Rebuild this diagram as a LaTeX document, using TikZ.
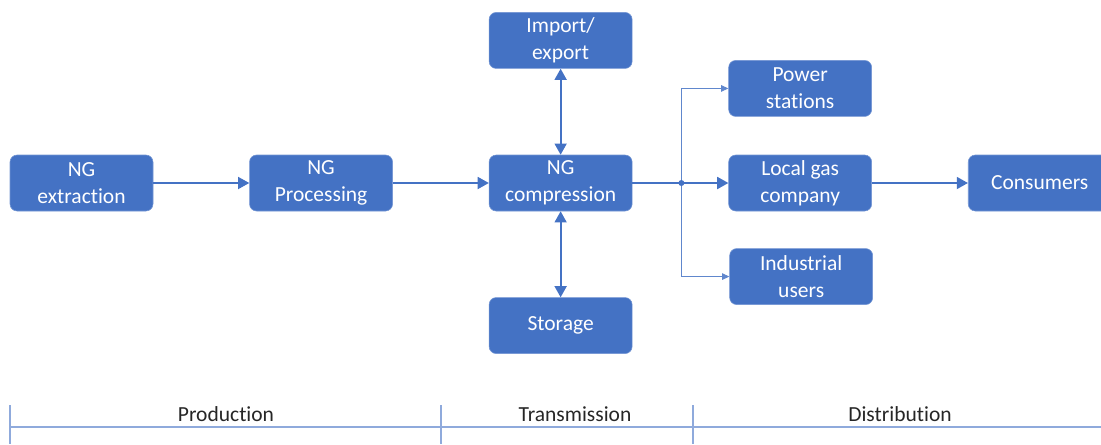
\documentclass[tikz,border=0pt]{standalone}
\usepackage{fontspec}
\setmainfont{Carlito}[Ligatures={NoCommon}]
\usetikzlibrary{arrows.meta, positioning, calc}
\definecolor{ngblue}{HTML}{4472C4}
\definecolor{ngline}{HTML}{8FAADC}
\tikzset{
  stage/.style={draw=ngblue!75!white, fill=ngblue, rounded corners=5pt, minimum width=3.575cm, minimum height=1.4cm, text=white, align=center, font=\fontsize{15.3}{19}\selectfont, inner sep=2pt},
  flow/.style={ngblue, line width=1.3pt, -{Triangle[length=2.8mm,width=3mm]}},
  twoway/.style={ngblue, line width=1.3pt, {Triangle[length=2.8mm,width=3mm]}-{Triangle[length=2.8mm,width=3mm]}},
  branch/.style={ngblue!85!white, line width=0.7pt, -{Triangle[length=1.8mm,width=1.6mm]}},
  phase/.style={font=\fontsize{15.3}{19}\selectfont, text=black!85},
  axis/.style={ngline, line width=0.8pt}
}

\begin{document}
\begin{tikzpicture}[node distance=2.4cm]
\useasboundingbox (0,0) rectangle (27.525,-11.1);

% main chain
\node[stage] (ext) at (2.0375,-4.575) {NG\\extraction};
\node[stage, right=of ext] (proc) {NG\\Processing};
\node[stage, right=of proc] (comp) {NG\\compression};
\node[stage, right=of comp] (local) {Local gas\\company};
\node[stage, right=of local] (cons) {Consumers};

% around compression
\node[stage, above=2.15cm of comp] (imp) {Import/\\export};
\node[stage, below=2.15cm of comp] (stor) {Storage};

% other users
\node[stage, above=0.95cm of local] (power) {Power\\stations};
\node[stage, below=0.925cm of local, xshift=0.025cm] (ind) {Industrial\\users};

\coordinate (junc) at ($(comp.east)+(1.225,0)$);

\draw[flow] (ext) -- (proc);
\draw[flow] (proc) -- (comp);
\draw[ngblue, line width=1.3pt] (comp) -- (junc);
\draw[flow] (junc) -- (local);
\draw[flow] (local) -- (cons);
\draw[twoway] (imp) -- (comp);
\draw[twoway] (stor) -- (comp);
\draw[branch] (junc) |- (power.west);
\draw[branch] (junc) |- (ind.west);
\fill[ngblue] (junc) circle (0.075);

% phases
\draw[axis] (0.25,-10.675) -- (27.525,-10.675);
\foreach \x in {0.25, 11.025, 17.325}
  \draw[axis] (\x,-10.125) -- (\x,-11.1);
\node[phase] (prod) at (5.65,-10.35) {Production};
\node[phase] (trans) at (14.375,-10.35) {Transmission};
\node[phase] (dist) at (22.5,-10.35) {Distribution};
\end{tikzpicture}
\end{document}
